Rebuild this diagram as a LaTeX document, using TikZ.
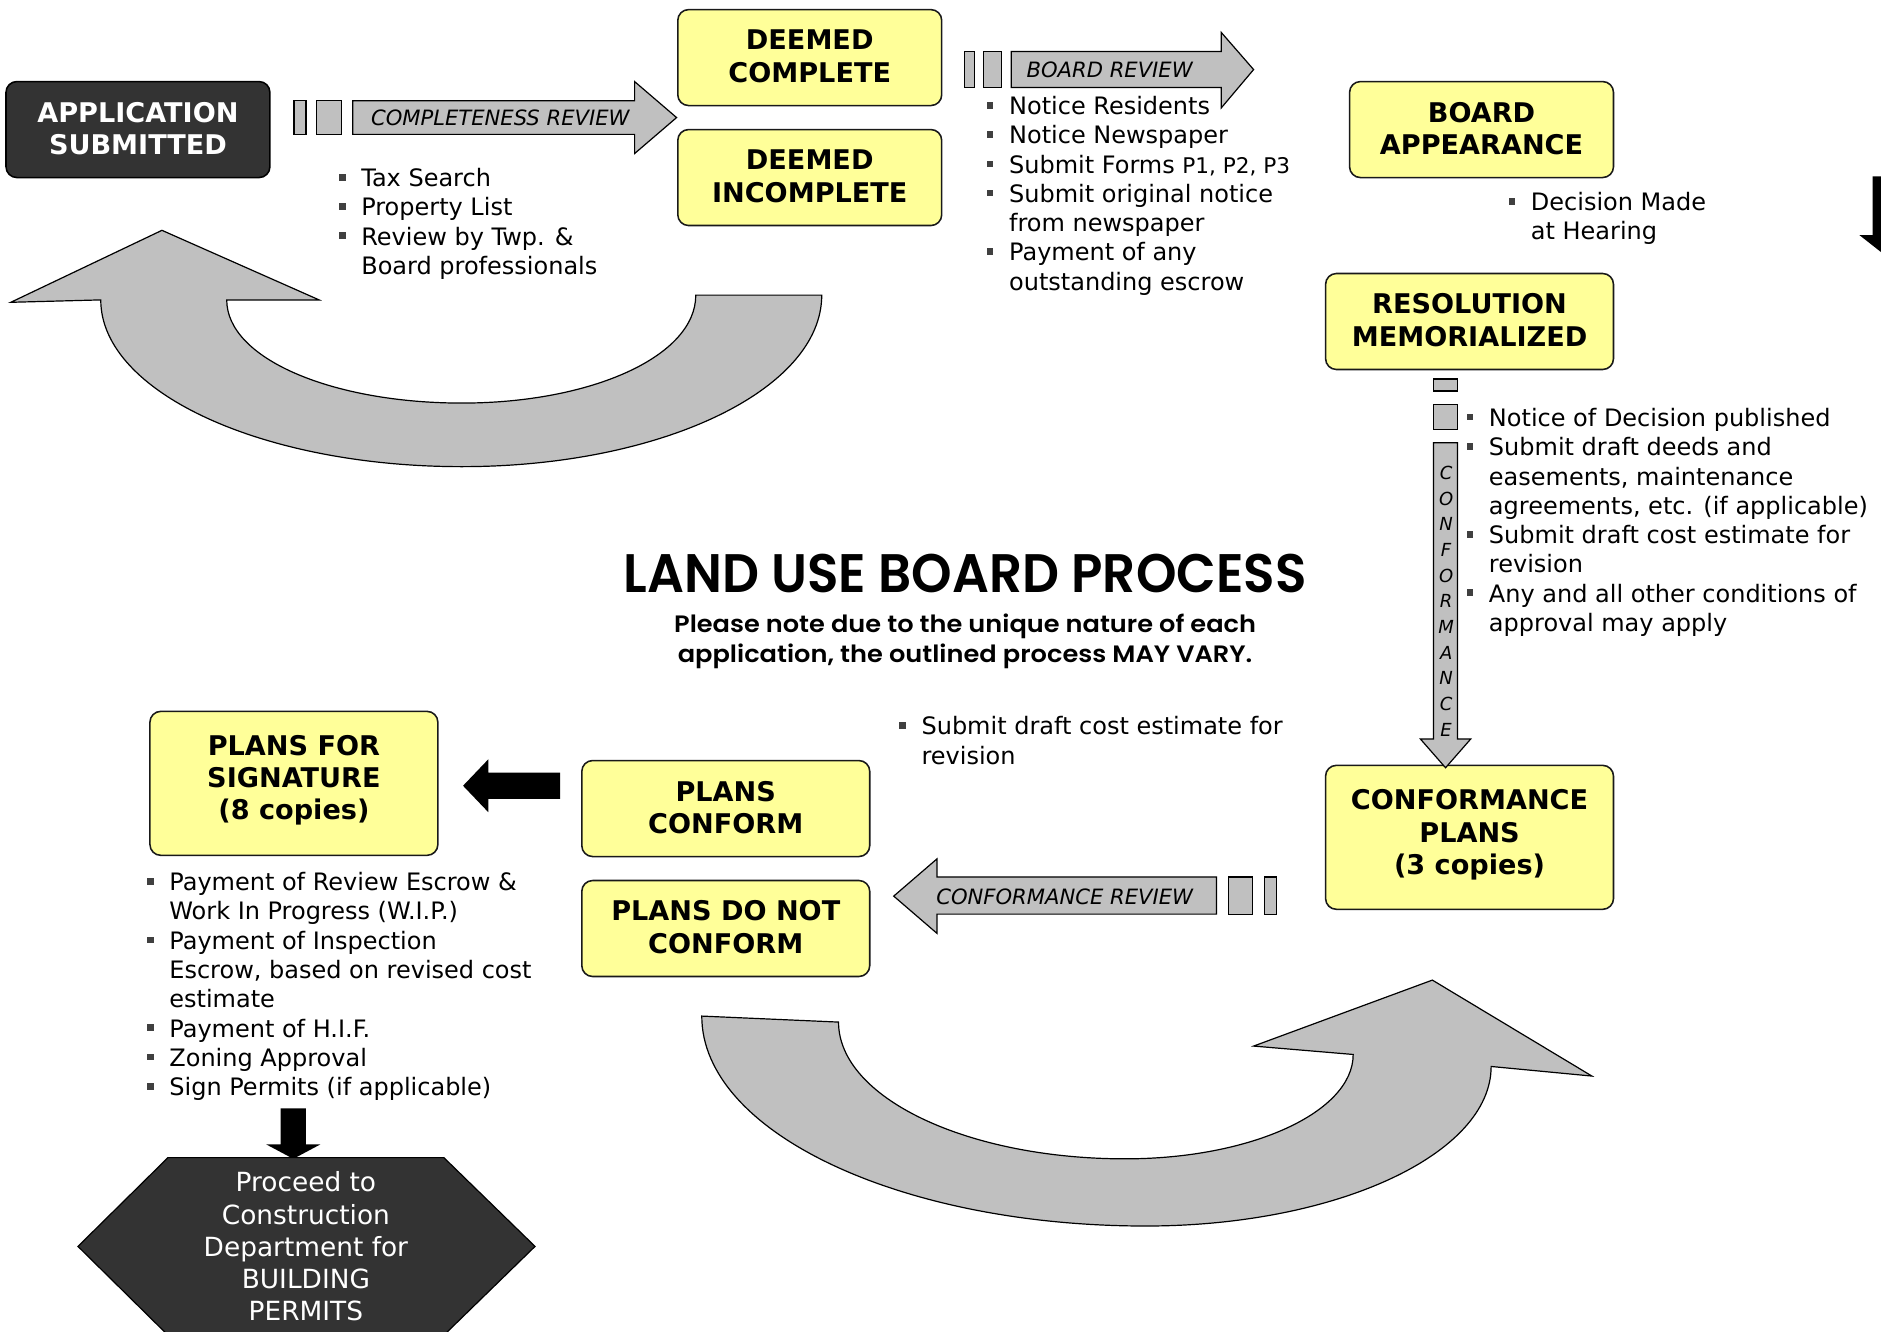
\documentclass[tikz,border=0pt]{standalone}
\usepackage{fontspec}
\usepackage{graphicx}
\setmainfont{DejaVu Sans}
\newfontfamily\titlefont{Poppins SemiBold}
\definecolor{boxyellow}{HTML}{FFFF99}
\definecolor{arrowgray}{HTML}{C0C0C0}
\definecolor{darkbox}{HTML}{333333}
\definecolor{bulletgray}{HTML}{404040}
\newcommand{\bl}{\makebox[19pt][l]{\hspace{0.4pt}\textcolor{bulletgray}{\rule[5pt]{5.5pt}{5.5pt}}}}
\newcommand{\ind}{\hspace*{19pt}}
\newcommand{\listfont}{\fontsize{20}{24.4}\selectfont}
\tikzset{
  ybox/.style={draw=black!90, line width=1.3pt, fill=boxyellow, rounded corners=9pt, inner sep=0pt},
  dbox/.style={draw=black, line width=1.3pt, fill=darkbox, rounded corners=9pt, inner sep=0pt},
  btxt/.style={font=\fontsize{22.6}{27}\selectfont\bfseries, align=center, inner sep=0pt},
  garrow/.style={draw=black, line width=1pt, fill=arrowgray},
  barrow/.style={fill=black},
  lst/.style={anchor=base west, inner sep=0pt, font=\listfont},
  atxt/.style={font=\fontsize{17.6}{21}\selectfont\itshape, inner sep=0pt, anchor=base},
}
\begin{document}
\begin{tikzpicture}[x=1pt,y=-1pt]
\useasboundingbox (0,0) rectangle (1568,1110);
\clip (0,0) rectangle (1568,1110);

% ---------- boxes ----------
\node[dbox, minimum width=220pt, minimum height=80pt] (app) at (115,108) {};
\node[btxt, text=white] (app-t) at (115,107) {APPLICATION\\SUBMITTED};

\node[ybox, minimum width=220pt, minimum height=80pt] (dc) at (675,48) {};
\node[btxt] (dc-t) at (675,47) {DEEMED\\COMPLETE};
\node[ybox, minimum width=220pt, minimum height=80pt] (di) at (675,148) {};
\node[btxt] (di-t) at (675,147) {DEEMED\\INCOMPLETE};

\node[ybox, minimum width=220pt, minimum height=80pt] (ba) at (1235,108) {};
\node[btxt] (ba-t) at (1235,107) {BOARD\\APPEARANCE};

\node[ybox, minimum width=240pt, minimum height=80pt] (rm) at (1225,268) {};
\node[btxt] (rm-t) at (1225,267) {RESOLUTION\\MEMORIALIZED};

\node[ybox, minimum width=240pt, minimum height=120pt] (pfs) at (245,653) {};
\node[btxt] (pfs-t) at (245,650.5) {PLANS FOR\\SIGNATURE\\(8 copies)};

\node[ybox, minimum width=240pt, minimum height=80pt] (pc) at (605,674) {};
\node[btxt] (pc-t) at (605,673) {PLANS\\CONFORM};
\node[ybox, minimum width=240pt, minimum height=80pt] (pdnc) at (605,774) {};
\node[btxt] (pdnc-t) at (605,773) {PLANS DO NOT\\CONFORM};

\node[ybox, minimum width=240pt, minimum height=120pt] (cp) at (1225,698) {};
\node[btxt] (cp-t) at (1225,696) {CONFORMANCE\\PLANS\\(3 copies)};

% ---------- completeness review arrow ----------
\draw[garrow] (245,84) rectangle (255,112);
\draw[garrow] (264,84) rectangle (285,112);
\draw[garrow] (294,84) -- (529,84) -- (529,68) -- (564,98) -- (529,128) -- (529,112) -- (294,112) -- cycle;
\node[atxt] (crev) at (417,105) {COMPLETENESS REVIEW};

% ---------- board review arrow ----------
\draw[garrow] (804,43) rectangle (812,73);
\draw[garrow] (820,43) rectangle (835,73);
\draw[garrow] (843,43) -- (1018,43) -- (1018,27) -- (1045,58) -- (1018,90) -- (1018,73) -- (843,73) -- cycle;
\node[atxt] (brev) at (925,65) {BOARD REVIEW};

% ---------- conformance (vertical) arrow ----------
\draw[garrow] (1195,316) rectangle (1215,326);
\draw[garrow] (1195,337) rectangle (1215,358);
\draw[garrow] (1195,369) -- (1215,369) -- (1215,616) -- (1226,616) -- (1205,640) -- (1184,616) -- (1195,616) -- cycle;
\node[align=center, inner sep=0pt, font=\fontsize{15}{21.4}\selectfont\itshape] (conf) at (1205.5,501)
  {C\\O\\N\\F\\O\\R\\M\\A\\N\\C\\E};

% ---------- conformance review arrow ----------
\draw[garrow] (1014,731) -- (781,731) -- (781,716) -- (745,747) -- (781,778) -- (781,762) -- (1014,762) -- cycle;
\draw[garrow] (1024,731) rectangle (1044,762);
\draw[garrow] (1054,731) rectangle (1064,762);
\node[atxt] (cfrev) at (887.5,754) {CONFORMANCE REVIEW};

% ---------- black arrows ----------
\fill[barrow] (467,644) -- (407,644) -- (407,633) -- (386,655) -- (407,677) -- (407,666) -- (467,666) -- cycle;
\fill[barrow] (234,924) -- (255,924) -- (255,954) -- (267,954) -- (244.5,966) -- (222,954) -- (234,954) -- cycle;
\fill[barrow] (1561,147) -- (1581,147) -- (1581,196) -- (1592,196) -- (1571,212.5) -- (1550,196) -- (1561,196) -- cycle;

% ---------- U-turn arrows ----------
\draw[garrow] (685,246) -- (580,246)
  .. controls (580,297) and (493,336) .. (385,336)
  .. controls (277,336) and (189,299) .. (189,250)
  -- (266,250) -- (135,192) -- (9,252) -- (84,250)
  .. controls (84,327) and (219,389) .. (385,389)
  .. controls (551,389) and (685,325) .. (685,246) -- cycle;

\draw[garrow] (585,847) -- (699,852)
  .. controls (699,915) and (806,966) .. (938,966)
  .. controls (1043,966) and (1128,927) .. (1128,879)
  -- (1045,872) -- (1194,817) -- (1327,897) -- (1243,889)
  .. controls (1243,962) and (1114,1022) .. (955,1022)
  .. controls (751,1022) and (585,944) .. (585,847) -- cycle;

% ---------- hexagon ----------
\draw[draw=black, line width=1pt, fill=darkbox] (140,965) -- (370,965) -- (446,1039) -- (370,1113) -- (140,1113) -- (65,1039) -- cycle;
\node[align=center, inner sep=0pt, text=white, font=\fontsize{22}{26.8}\selectfont] (hex-t) at (255,1039)
  {Proceed to\\Construction\\Department for\\BUILDING\\PERMITS};

% ---------- bullet lists ----------
\node[lst] (listA) at (282,155.5) {\begin{tabular}[t]{@{}l@{}}\bl Tax Search\\ \bl Property List\\ \bl Review by Twp. \&\\ \ind Board professionals\end{tabular}};

\node[lst] (listB) at (822,95.5) {\begin{tabular}[t]{@{}l@{}}\bl Notice Residents\\ \bl Notice Newspaper\\ \bl Submit Forms {\fontsize{18}{24.4}\selectfont P1, P2, P3}\\ \bl Submit original notice\\ \ind from newspaper\\ \bl Payment of any\\ \ind outstanding escrow\end{tabular}};

\node[lst] (listC) at (1257,175.5) {\begin{tabular}[t]{@{}l@{}}\bl Decision Made\\ \ind at Hearing\end{tabular}};

\node[lst] (listD) at (1222,355.5) {\begin{tabular}[t]{@{}l@{}}\bl Notice of Decision published\\ \bl Submit draft deeds and\\ \ind easements, maintenance\\ \ind agreements, etc. (if applicable)\\ \bl Submit draft cost estimate for\\ \ind revision\\ \bl Any and all other conditions of\\ \ind approval may apply\end{tabular}};

\node[lst] (listE) at (749,612.5) {\begin{tabular}[t]{@{}l@{}}\bl Submit draft cost estimate for\\ \ind revision\end{tabular}};

\node[lst] (listF) at (122,742.5) {\begin{tabular}[t]{@{}l@{}}\bl Payment of Review Escrow \&\\ \ind Work In Progress (W.I.P.)\\ \bl Payment of Inspection\\ \ind Escrow, based on revised cost\\ \ind estimate\\ \bl Payment of H.I.F.\\ \bl Zoning Approval\\ \bl Sign Permits (if applicable)\end{tabular}};

% ---------- title ----------
\node[anchor=base, inner sep=0pt] (title) at (804.5,494) {\resizebox{569pt}{32pt}{\titlefont LAND USE BOARD PROCESS}};
\node[anchor=base, inner sep=0pt] (sub1) at (804.5,527) {\resizebox{485pt}{15.5pt}{\titlefont Please note due to the unique nature of each}};
\node[anchor=base, inner sep=0pt] (sub2) at (804.5,552.5) {\resizebox{479pt}{15.5pt}{\titlefont application, the outlined process MAY VARY.}};
\end{tikzpicture}
\end{document}
